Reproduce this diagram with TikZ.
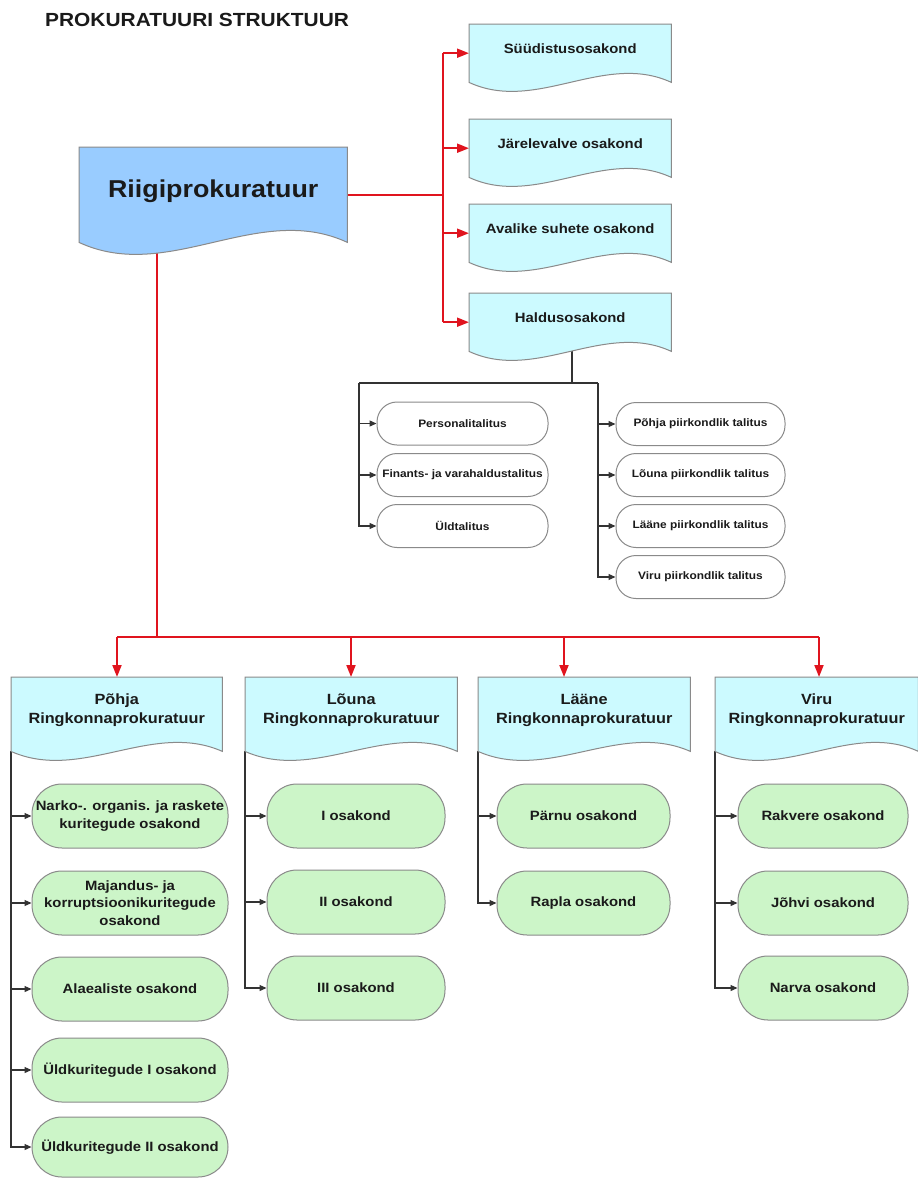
\documentclass[tikz,border=0pt]{standalone}
\usepackage{fontspec}
\setmainfont{Liberation Sans}[FakeStretch=1.1]
\usetikzlibrary{arrows.meta,backgrounds,calc}
\definecolor{rpblue}{HTML}{99CCFF}
\definecolor{cyanbox}{HTML}{CCFAFF}
\definecolor{greenbox}{HTML}{CCF5C8}
\definecolor{linered}{HTML}{E0141E}
\definecolor{bordergray}{HTML}{8A8A8A}
\definecolor{txt}{HTML}{1A1A1A}
\definecolor{blk}{HTML}{333333}
\newcommand\docshape[3]{%
  \draw[docborder, fill=#2] (#1.north west) -- (#1.north east) -- (#1.south east)
    .. controls ($(#1.south east)!0.333!(#1.south west)+(0,-3.46*#3)$)
    and ($(#1.south east)!0.667!(#1.south west)+(0,3.46*#3)$) .. (#1.south west) -- cycle;}
\tikzset{
  docborder/.style={draw=bordergray, line width=1pt},
  docnode/.style={inner sep=0pt, align=center, text=txt, anchor=north west},
  topbox/.style={docnode, minimum width=202, minimum height=58, text depth=9pt, font=\bfseries\fontsize{13.5}{16}\selectfont},
  headbox/.style={docnode, minimum height=74, text depth=11pt, font=\bfseries\fontsize{14.8}{19}\selectfont},
  smallbox/.style={rectangle, rounded corners=20pt, draw=bordergray, line width=1pt, fill=white, text=txt,
    minimum height=43, inner xsep=1pt, inner ysep=0pt, align=center, font=\bfseries\fontsize{10.8}{13}\selectfont},
  greenbx/.style={rectangle, rounded corners=30pt, draw=bordergray, line width=1pt, fill=greenbox, text=txt,
    minimum height=64, inner xsep=1pt, inner ysep=0pt, align=center, font=\bfseries\fontsize{13.5}{17.5}\selectfont},
  redl/.style={draw=linered, line width=1.8pt},
  redarr/.style={redl, -{Triangle[length=12pt,width=9pt]}},
  blkl/.style={draw=blk, line width=1.2pt},
  blkarr/.style={blkl, -{Triangle[length=7pt,width=6pt]}}
}
\begin{document}
\begin{tikzpicture}[x=1pt,y=-1pt]
\useasboundingbox (0,0) rectangle (918,1178);
% title
\node[anchor=west, text=txt, inner sep=0pt, font=\bfseries\fontsize{19}{22}\selectfont] (title) at (45,20) {PROKURATUURI STRUKTUUR};
% main
\node[docnode, minimum width=268, minimum height=95, text depth=13pt, font=\bfseries\fontsize{24.4}{28}\selectfont] (riigi) at (79,147) {Riigiprokuratuur};
% top-right departments
\node[topbox] (sud) at (469,24) {Süüdistusosakond};
\node[topbox] (jar) at (469,119) {Järelevalve osakond};
\node[topbox] (ava) at (469,204) {Avalike suhete osakond};
\node[topbox] (hald) at (469,293) {Haldusosakond};
% Haldus children
\node[smallbox, minimum width=171] (pers) at (462.5,423.5) {Personalitalitus};
\node[smallbox, minimum width=171] (fin) at (462.5,475) {Finants- ja varahaldustalitus};
\node[smallbox, minimum width=171] (uld) at (462.5,526) {Üldtalitus};
\node[smallbox, minimum width=169] (ptal) at (700.5,424) {Põhja piirkondlik talitus};
\node[smallbox, minimum width=169] (ltal) at (700.5,475) {Lõuna piirkondlik talitus};
\node[smallbox, minimum width=169] (ltal2) at (700.5,526) {Lääne piirkondlik talitus};
\node[smallbox, minimum width=169] (vtal) at (700.5,577) {Viru piirkondlik talitus};
% district headers
\node[headbox, minimum width=211] (poh) at (11,677) {Põhja\\Ringkonnaprokuratuur};
\node[headbox, minimum width=212] (lou) at (245,677) {Lõuna\\Ringkonnaprokuratuur};
\node[headbox, minimum width=212] (laa) at (478,677) {Lääne\\Ringkonnaprokuratuur};
\node[headbox, minimum width=203] (vir) at (715,677) {Viru\\Ringkonnaprokuratuur};
% Põhja departments
\node[greenbx, minimum width=196] (narko) at (130,816) {Narko-. organis. ja raskete\\kuritegude osakond};
\node[greenbx, minimum width=196] (maj) at (130,903) {Majandus- ja\\korruptsioonikuritegude\\osakond};
\node[greenbx, minimum width=196] (ala) at (130,989) {Alaealiste osakond};
\node[greenbx, minimum width=196] (uk1) at (130,1070) {Üldkuritegude I osakond};
\node[greenbx, minimum width=196, minimum height=60] (uk2) at (130,1147) {Üldkuritegude II osakond};
% Lõuna departments
\node[greenbx, minimum width=178] (o1) at (356,816) {I osakond};
\node[greenbx, minimum width=178] (o2) at (356,902) {II osakond};
\node[greenbx, minimum width=178] (o3) at (356,988) {III osakond};
% Lääne departments
\node[greenbx, minimum width=173] (par) at (583.5,816) {Pärnu osakond};
\node[greenbx, minimum width=173] (rap) at (583.5,903) {Rapla osakond};
% Viru departments
\node[greenbx, minimum width=170] (rak) at (823,816) {Rakvere osakond};
\node[greenbx, minimum width=170] (joh) at (823,903) {Jõhvi osakond};
\node[greenbx, minimum width=170] (nar) at (823,988) {Narva osakond};
% helper coordinates
\coordinate (rt) at (443,200);
\coordinate (rb) at (157,637);
\coordinate (b1) at (117,637);
\coordinate (b2) at (351,637);
\coordinate (b3) at (564,637);
\coordinate (b4) at (819,637);
\coordinate (hc) at (572,383);
\coordinate (hl) at (359,383);
\coordinate (hr) at (598,383);
\begin{pgfonlayer}{background}
\fill[white] (0,0) rectangle (918,1178);
% red connectors
\draw[redl] (riigi.east) -- (riigi.east -| rt);
\draw[redl] (sud.west -| rt) -- (hald.west -| rt);
\draw[redarr] (sud.west -| rt) -- (sud.west);
\draw[redarr] (jar.west -| rt) -- (jar.west);
\draw[redarr] (ava.west -| rt) -- (ava.west);
\draw[redarr] (hald.west -| rt) -- (hald.west);
\draw[redl] (riigi.south -| rb) -- (rb);
\draw[redl] (b1) -- (b4);
\draw[redarr] (b1) -- (b1 |- poh.north);
\draw[redarr] (b2) -- (b2 |- lou.north);
\draw[redarr] (b3) -- (b3 |- laa.north);
\draw[redarr] (b4) -- (b4 |- vir.north);
% Haldus subtree
\draw[blkl] (hald.south -| hc) -- (hc);
\draw[blkl] (hl) -- (hr);
\draw[blkarr] (hl) |- (pers.west);
\draw[blkarr] (hl) |- (fin.west);
\draw[blkarr] (hl) |- (uld.west);
\draw[blkarr] (hr) |- (ptal.west);
\draw[blkarr] (hr) |- (ltal.west);
\draw[blkarr] (hr) |- (ltal2.west);
\draw[blkarr] (hr) |- (vtal.west);
% district trunks
\draw[blkarr] (poh.south west) |- (narko.west);
\draw[blkarr] (poh.south west) |- (maj.west);
\draw[blkarr] (poh.south west) |- (ala.west);
\draw[blkarr] (poh.south west) |- (uk1.west);
\draw[blkarr] (poh.south west) |- (uk2.west);
\draw[blkarr] (lou.south west) |- (o1.west);
\draw[blkarr] (lou.south west) |- (o2.west);
\draw[blkarr] (lou.south west) |- (o3.west);
\draw[blkarr] (laa.south west) |- (par.west);
\draw[blkarr] (laa.south west) |- (rap.west);
\draw[blkarr] (vir.south west) |- (rak.west);
\draw[blkarr] (vir.south west) |- (joh.west);
\draw[blkarr] (vir.south west) |- (nar.west);
% document shapes
\docshape{riigi}{rpblue}{12}
\docshape{sud}{cyanbox}{9}
\docshape{jar}{cyanbox}{9}
\docshape{ava}{cyanbox}{9}
\docshape{hald}{cyanbox}{9}
\docshape{poh}{cyanbox}{9}
\docshape{lou}{cyanbox}{9}
\docshape{laa}{cyanbox}{9}
\docshape{vir}{cyanbox}{9}
\end{pgfonlayer}
\end{tikzpicture}
\end{document}
